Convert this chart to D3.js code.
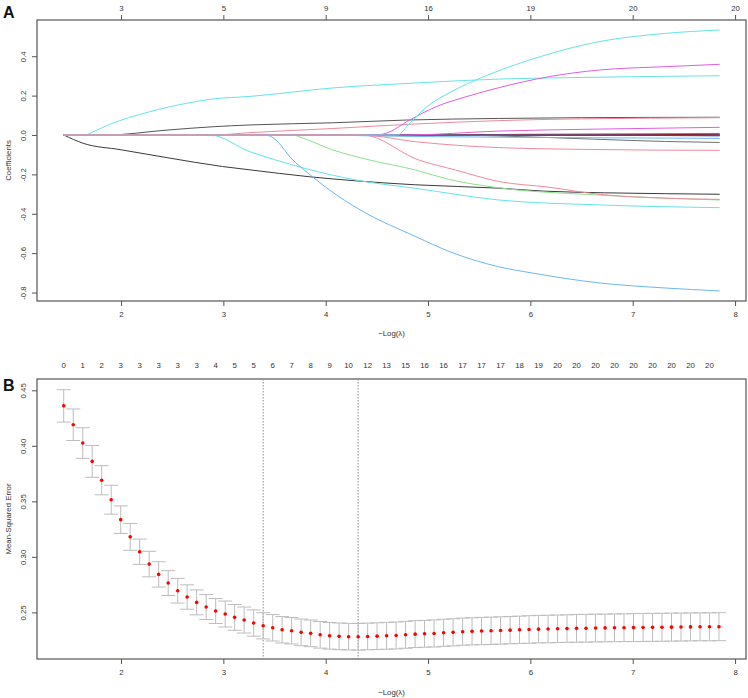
<!DOCTYPE html>
<html>
<head>
<meta charset="utf-8">
<script src="https://cdn.jsdelivr.net/npm/d3@7"></script>
<style>
  body { margin: 0; background: #fff; }
  svg { display: block; font-family: "Liberation Sans", Arial, sans-serif; }
</style>
</head>
<body>
<svg width="748" height="698"></svg>
<script>
const svg = d3.select("svg");

// -log(lambda) grid of the cross validation (70 fits)
const logLambda = [
  1.440, 1.533, 1.626, 1.718, 1.811, 1.904, 1.997, 2.090, 2.182, 2.275,
  2.368, 2.461, 2.554, 2.646, 2.739, 2.832, 2.925, 3.018, 3.110, 3.203,
  3.296, 3.389, 3.482, 3.574, 3.667, 3.760, 3.853, 3.946, 4.038, 4.131,
  4.224, 4.317, 4.410, 4.502, 4.595, 4.688, 4.781, 4.874, 4.966, 5.059,
  5.152, 5.245, 5.338, 5.430, 5.523, 5.616, 5.709, 5.802, 5.894, 5.987,
  6.080, 6.173, 6.266, 6.358, 6.451, 6.544, 6.637, 6.730, 6.822, 6.915,
  7.008, 7.101, 7.194, 7.286, 7.379, 7.472, 7.565, 7.658, 7.750, 7.843
];
// mean squared error
const cvm = [
  0.4360, 0.4190, 0.4025, 0.3860, 0.3690, 0.3515, 0.3335, 0.3180, 0.3046, 0.2935,
  0.2842, 0.2764, 0.2695, 0.2638, 0.2590, 0.2548, 0.2512, 0.2485, 0.2455, 0.2431,
  0.2404, 0.2379, 0.2361, 0.2343, 0.2334, 0.2320, 0.2311, 0.2298, 0.2289, 0.2284,
  0.2281, 0.2280, 0.2283, 0.2286, 0.2289, 0.2292, 0.2298, 0.2304, 0.2307, 0.2310,
  0.2316, 0.2320, 0.2326, 0.2329, 0.2332, 0.2334, 0.2337, 0.2340, 0.2343, 0.2346,
  0.2349, 0.2350, 0.2352, 0.2354, 0.2356, 0.2357, 0.2359, 0.2360, 0.2361, 0.2362,
  0.2363, 0.2364, 0.2365, 0.2366, 0.2367, 0.2368, 0.2369, 0.2370, 0.2370, 0.2371
];
// standard error of the mse
const cvsd = [
  0.0146, 0.0142, 0.0138, 0.0143, 0.0131, 0.0130, 0.0124, 0.0121, 0.0114, 0.0115,
  0.0114, 0.0112, 0.0111, 0.0110, 0.0112, 0.0112, 0.0112, 0.0117, 0.0116, 0.0117,
  0.0118, 0.0118, 0.0119, 0.0119, 0.0119, 0.0120, 0.0120, 0.0120, 0.0120, 0.0120,
  0.0120, 0.0120, 0.0120, 0.0120, 0.0121, 0.0121, 0.0121, 0.0121, 0.0121, 0.0122,
  0.0122, 0.0122, 0.0122, 0.0122, 0.0123, 0.0123, 0.0123, 0.0123, 0.0123, 0.0124,
  0.0124, 0.0124, 0.0124, 0.0124, 0.0125, 0.0125, 0.0125, 0.0125, 0.0125, 0.0125,
  0.0126, 0.0126, 0.0126, 0.0126, 0.0126, 0.0126, 0.0126, 0.0126, 0.0126, 0.0126
];
// number of non-zero coefficients, shown for every second lambda
const nzeroLabels = [0, 1, 2, 3, 3, 3, 3, 3, 4, 5, 5, 6, 7, 8, 9, 10, 12, 13, 15, 16,
  16, 17, 17, 17, 18, 19, 20, 20, 20, 20, 20, 20, 20, 20, 20];
const lambda1se = 3.389;
const lambdaMin = 4.317;

// coefficient paths (panel A)
const xTicks = [2, 3, 4, 5, 6, 7, 8];
const topLabelsA = [3, 5, 9, 16, 19, 20, 20];
const yTicksA = [-0.8, -0.6, -0.4, -0.2, 0.0, 0.2, 0.4];
const yTicksB = [0.25, 0.30, 0.35, 0.40, 0.45];

const pathBlackZero = [[1.44, 0], [3.95, 0], [5.0, 0.002], [7.85, 0.000]];
const pathGreenZero = [[1.44, 0], [4.5, 0], [6.0, -0.002], [7.85, -0.003]];
const pathTeal = [[1.44, 0], [4.95, 0], [6.0, 0.004], [7.85, 0.008]];
const pathNavy = [[1.44, 0], [5.5, 0], [7.85, -0.004]];
const pathPurple = [[1.44, 0], [5.8, 0], [7.85, 0.002]];
const pathMaroon = [[1.44, 0], [6.5, 0], [7.85, 0.004]];
const pathGraySmall = [[1.44, 0], [5.30, 0], [5.69, -0.005], [6.18, -0.013], [6.67, -0.022], [7.32, -0.033], [7.85, -0.038]];
const pathBlueSmall = [[1.44, 0], [3.95, 0], [4.5, -0.005], [5.69, -0.011], [7.85, -0.017]];
const pathMagentaSmall = [[1.44, 0], [4.79, 0], [5.69, 0.020], [6.67, 0.030], [7.85, 0.039]];
const pathBlackLow = [[1.44, 0], [1.63, -0.042], [2.0, -0.075], [2.45, -0.115], [2.99, -0.160], [3.26, -0.177],
  [3.84, -0.212], [4.30, -0.233], [4.88, -0.253], [5.69, -0.270], [6.13, -0.285], [7.32, -0.298], [7.85, -0.301]];
const pathCyanFlat = [[1.44, 0], [1.65, 0], [1.71, 0.012], [1.89, 0.054], [2.28, 0.118], [2.64, 0.161], [2.90, 0.183],
  [3.26, 0.196], [4.07, 0.239], [4.88, 0.264], [5.69, 0.284], [6.35, 0.291], [6.99, 0.296], [7.85, 0.301]];
const pathGrayUp = [[1.44, 0], [1.86, 0], [2.45, 0.025], [2.90, 0.042], [3.26, 0.051], [4.07, 0.062], [4.79, 0.076],
  [5.69, 0.084], [6.50, 0.088], [7.85, 0.090]];
const pathPinkUp = [[1.44, 0], [2.90, 0], [3.26, 0.012], [4.07, 0.033], [4.88, 0.056], [5.69, 0.073], [7.06, 0.085], [7.85, 0.088]];
const pathCyanLow = [[1.44, 0], [2.87, 0], [3.26, -0.085], [3.5, -0.125], [3.8, -0.170], [4.33, -0.232], [4.88, -0.271],
  [5.69, -0.330], [6.67, -0.355], [7.85, -0.369]];
const pathBlueBig = [[1.44, 0], [3.40, 0], [3.47, -0.009], [3.68, -0.127], [3.87, -0.212], [4.13, -0.313], [4.39, -0.396],
  [4.88, -0.516], [5.21, -0.592], [5.69, -0.669], [6.02, -0.701], [6.67, -0.751], [7.32, -0.777], [7.85, -0.792]];
const pathGreen = [[1.44, 0], [3.68, 0], [3.74, -0.009], [4.07, -0.076], [4.43, -0.127], [4.88, -0.178], [5.2, -0.225],
  [5.69, -0.268], [6.67, -0.305], [7.85, -0.330]];
const pathPinkSteep = [[1.44, 0], [4.36, 0], [4.91, -0.127], [5.27, -0.178], [5.69, -0.236], [6.18, -0.265], [6.67, -0.301],
  [7.32, -0.321], [7.85, -0.327]];
const pathMagenta = [[1.44, 0], [4.50, 0], [4.59, 0.009], [4.82, 0.076], [5.08, 0.144], [5.37, 0.194], [5.69, 0.240],
  [6.18, 0.296], [6.67, 0.330], [7.32, 0.347], [7.85, 0.359]];
const pathCyanBig = [[1.44, 0], [4.70, 0], [4.82, 0.059], [4.98, 0.140], [5.21, 0.215], [5.47, 0.280], [5.69, 0.326],
  [6.11, 0.400], [6.67, 0.474], [7.32, 0.516], [7.85, 0.533]];
const pathPinkSlight = [[1.44, 0], [4.33, 0], [4.91, -0.036], [5.69, -0.064], [6.67, -0.074], [7.85, -0.078]];

const coefPaths = [pathBlackZero, pathGreenZero, pathTeal, pathNavy, pathPurple, pathMaroon, pathGraySmall,
  pathBlueSmall, pathMagentaSmall, pathBlackLow, pathCyanFlat, pathGrayUp, pathPinkUp, pathCyanLow, pathBlueBig,
  pathGreen, pathPinkSteep, pathMagenta, pathCyanBig, pathPinkSlight];
const coefColors = ["#111111", "#3aa655", "#1fb5a8", "#203a8c", "#8a7be0", "#8b1a2a", "#707070",
  "#6cb8f0", "#e05ee0", "#3a3a3a", "#66e3ea", "#555555", "#f08a9c", "#66e3ea", "#6cb8f0",
  "#8ee08e", "#f08a9c", "#e05ee0", "#66e3ea", "#f08a9c"];

const fs = "7.8px";
const axisCol = "#555";

const x = d3.scaleLinear().domain([1.179, 8.107]).range([37, 746]);
const yA = d3.scaleLinear().domain([-0.843, 0.584]).range([301, 20]);
const yB = d3.scaleLinear().domain([0.208, 0.4602]).range([659, 379]);

function styleAxis(g) {
  g.select(".domain").remove();
  g.selectAll(".tick line").attr("stroke", axisCol);
  g.selectAll(".tick text").attr("fill", "#333").style("font-size", fs);
}

function rotateLabels(g) {
  g.selectAll(".tick text")
    .attr("x", 0).attr("y", -11).attr("dy", 0)
    .attr("text-anchor", "middle")
    .attr("transform", "rotate(-90)");
}

// ---------- panel A ----------
svg.append("defs").append("clipPath").attr("id", "clipA")
  .append("rect").attr("x", 37).attr("y", 20).attr("width", 709).attr("height", 281);

svg.append("g").attr("clip-path", "url(#clipA)")
  .selectAll("path")
  .data(coefPaths)
  .enter()
  .append("path")
  .attr("fill", "none")
  .attr("stroke", (d, i) => coefColors[i])
  .attr("stroke-width", 1)
  .attr("d", d3.line().x(d => x(d[0])).y(d => yA(d[1])).curve(d3.curveMonotoneX));

svg.append("rect").attr("x", 37).attr("y", 20).attr("width", 709).attr("height", 281)
  .attr("fill", "none").attr("stroke", axisCol).attr("stroke-width", 1.2);

svg.append("g").attr("transform", "translate(0,301)")
  .call(d3.axisBottom(x).tickValues(xTicks).tickSize(5).tickPadding(5).tickFormat(d3.format("d")))
  .call(styleAxis);

svg.append("g").attr("transform", "translate(0,20)")
  .call(d3.axisTop(x).tickValues(xTicks).tickSize(5).tickPadding(4).tickFormat((d, i) => topLabelsA[i]))
  .call(styleAxis);

svg.append("g").attr("transform", "translate(37,0)")
  .call(d3.axisLeft(yA).tickValues(yTicksA).tickSize(5).tickFormat(d => d.toFixed(1)))
  .call(styleAxis).call(rotateLabels);

svg.append("text").attr("transform", "translate(11,160.5) rotate(-90)")
  .attr("text-anchor", "middle").style("font-size", fs).attr("fill", "#333").text("Coefficients");
svg.append("text").attr("x", 391.5).attr("y", 336)
  .attr("text-anchor", "middle").style("font-size", fs).attr("fill", "#333").text("−Log(λ)");
svg.append("text").attr("x", 3).attr("y", 17.5)
  .style("font-size", "16px").style("font-weight", "bold").attr("fill", "#111").text("A");

// ---------- panel B ----------
svg.append("rect").attr("x", 37).attr("y", 379).attr("width", 709).attr("height", 280)
  .attr("fill", "none").attr("stroke", axisCol).attr("stroke-width", 1.2);

svg.selectAll(".vline")
  .data([lambda1se, lambdaMin])
  .enter()
  .append("line")
  .attr("class", "vline")
  .attr("x1", d => x(d)).attr("x2", d => x(d))
  .attr("y1", 379).attr("y2", 659)
  .attr("stroke", "#888").attr("stroke-width", 1)
  .attr("stroke-dasharray", "1.5,1.5");

const cv = logLambda.map((l, i) => ({ l: l, m: cvm[i], s: cvsd[i] }));
const bars = svg.append("g").attr("stroke", "#bdbdbd").attr("stroke-width", 1);
bars.selectAll(".eb")
  .data(cv)
  .enter()
  .append("line")
  .attr("x1", d => x(d.l)).attr("x2", d => x(d.l))
  .attr("y1", d => yB(d.m + d.s)).attr("y2", d => yB(d.m - d.s));
bars.selectAll(".capU")
  .data(cv)
  .enter()
  .append("line")
  .attr("x1", d => x(d.l) - 7).attr("x2", d => x(d.l) + 7)
  .attr("y1", d => yB(d.m + d.s)).attr("y2", d => yB(d.m + d.s));
bars.selectAll(".capL")
  .data(cv)
  .enter()
  .append("line")
  .attr("x1", d => x(d.l) - 7).attr("x2", d => x(d.l) + 7)
  .attr("y1", d => yB(d.m - d.s)).attr("y2", d => yB(d.m - d.s));

svg.append("g").selectAll("circle")
  .data(cv)
  .enter()
  .append("circle")
  .attr("cx", d => x(d.l)).attr("cy", d => yB(d.m))
  .attr("r", 1.8).attr("fill", "#ff0000");

svg.append("g").attr("transform", "translate(0,659)")
  .call(d3.axisBottom(x).tickValues(xTicks).tickSize(5).tickPadding(5).tickFormat(d3.format("d")))
  .call(styleAxis);

svg.append("g").attr("transform", "translate(37,0)")
  .call(d3.axisLeft(yB).tickValues(yTicksB).tickSize(5).tickFormat(d => d.toFixed(2)))
  .call(styleAxis).call(rotateLabels);

svg.append("g").selectAll("text")
  .data(nzeroLabels)
  .enter()
  .append("text")
  .attr("x", (d, i) => x(logLambda[i * 2]))
  .attr("y", 368)
  .attr("text-anchor", "middle").style("font-size", fs).attr("fill", "#333")
  .text(d => d);

svg.append("text").attr("transform", "translate(11,519) rotate(-90)")
  .attr("text-anchor", "middle").style("font-size", fs).attr("fill", "#333").text("Mean-Squared Error");
svg.append("text").attr("x", 391.5).attr("y", 695)
  .attr("text-anchor", "middle").style("font-size", fs).attr("fill", "#333").text("−Log(λ)");
svg.append("text").attr("x", 3).attr("y", 391)
  .style("font-size", "16px").style("font-weight", "bold").attr("fill", "#111").text("B");
</script>
</body>
</html>
